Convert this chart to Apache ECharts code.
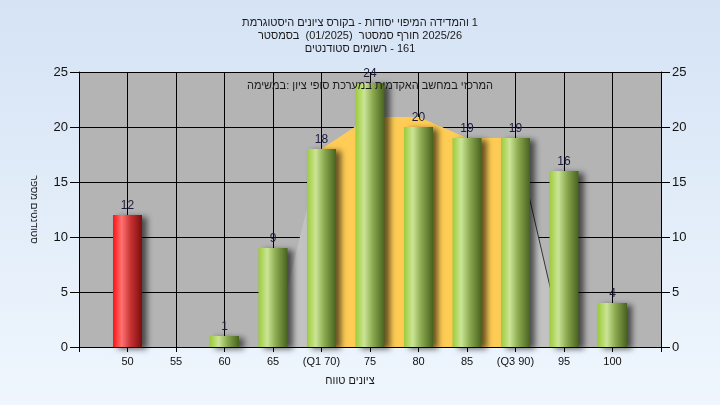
<!DOCTYPE html>
<html><head><meta charset="utf-8">
<script src="https://cdn.jsdelivr.net/npm/echarts@6/dist/echarts.min.js"></script>
<style>html,body{margin:0;padding:0;}#c{width:720px;height:405px;}</style>
</head><body><div id="c"></div>
<script>
const titleLines = ['היסטוגרמת ציונים בקורס - יסודות המיפוי והמדידה 1', 'בסמסטר  (01/2025)  סמסטר חורף 2025/26', 'סטודנטים רשומים - 161'];
const subtitleText = 'במשימה: ציון סופי במערכת האקדמית במחשב המרכזי';
const xName = 'טווח ציונים';
const yName = 'מספר סטודנטים';
const categories = ['50', '55', '60', '65', '(Q1 70)', '75', '80', '85', '(Q3 90)', '95', '100'];
const counts = [12, 0, 1, 9, 18, 24, 20, 19, 19, 16, 4];
const failCategories = ['50'];
const outlineArea = [null, null, null, 0, 18, 20.9, 20.9, 19, 19, 0, 0];
const quartileArea = [null, null, null, null, 18, 20.9, 20.9, 19, 19, null, null];
const edgeLine = [null, null, null, null, null, null, null, null, 19, 0, null];
const yTicks = [0, 5, 10, 15, 20, 25];

// each word becomes its own rich-text token: words are laid out left to right
function ltrWords(s) { return s.split(' ').map(w => (w ? '{w|' + w + '}' : '')).join(' '); }
const pad = arr => [null].concat(arr, [null]);

const font = '"Liberation Sans", Arial, sans-serif';
const txt = (size, lh) => ({fontSize: size, color: '#1a1a1a', fontFamily: font, lineHeight: lh});
const green = {type: 'linear', x: 0, y: 0, x2: 1, y2: 0, colorStops: [
  {offset: 0, color: '#9dcb3a'}, {offset: 0.3, color: '#cbe596'}, {offset: 0.6, color: '#8aa94f'}, {offset: 1, color: '#48621e'}]};
const red = {type: 'linear', x: 0, y: 0, x2: 1, y2: 0, colorStops: [
  {offset: 0, color: '#ff1212'}, {offset: 0.3, color: '#ff7272'}, {offset: 0.6, color: '#c83434'}, {offset: 1, color: '#7c0c0c'}]};

const chart = echarts.init(document.getElementById('c'), null, {renderer: 'canvas'});
const axisLabel = {color: '#111', fontSize: 13, fontFamily: font};
chart.setOption({
  backgroundColor: {type: 'linear', x: 0, y: 0, x2: 0, y2: 1, colorStops: [{offset: 0, color: '#d5e3f5'}, {offset: 1, color: '#eff6fd'}]},
  animation: false,
  title: {
    text: titleLines.map(ltrWords).join('\n'),
    left: 'center', top: 11,
    textStyle: Object.assign(txt(11, 13), {fontWeight: 'normal', rich: {w: txt(11, 13)}})
  },
  graphic: [{
    type: 'text', x: 370, y: 80, z: 100,
    style: {text: ltrWords(subtitleText), align: 'center', fontSize: 11, fill: '#1a1a1a', fontFamily: font,
      rich: {w: {fontSize: 11, fill: '#1a1a1a', fontFamily: font}}}
  }],
  grid: {left: 79, right: 59, top: 72, bottom: 58, show: true, backgroundColor: '#b4b4b4', borderWidth: 0},
  xAxis: {
    type: 'category', data: [''].concat(categories, ['']), boundaryGap: false,
    name: ltrWords(xName), nameLocation: 'middle', nameGap: 28,
    nameTextStyle: Object.assign(txt(11), {padding: [0, 40, 0, 0], rich: {w: txt(11)}}),
    axisLine: {lineStyle: {color: '#000', width: 1}},
    axisTick: {length: 5, lineStyle: {color: '#000'}},
    axisLabel: Object.assign({}, axisLabel, {fontSize: 11, margin: 9, interval: 0}),
    splitLine: {show: true, lineStyle: {color: '#000', width: 1}}
  },
  yAxis: [{
    type: 'value', min: yTicks[0], max: yTicks[yTicks.length - 1], interval: yTicks[1] - yTicks[0],
    name: ltrWords(yName), nameLocation: 'middle', nameGap: 40, nameRotate: -90,
    nameTextStyle: Object.assign(txt(10), {rich: {w: txt(10)}}),
    axisLine: {show: true, lineStyle: {color: '#000'}},
    axisTick: {show: true, length: 9, lineStyle: {color: '#000'}},
    axisLabel: Object.assign({}, axisLabel, {margin: 11}),
    splitLine: {show: true, lineStyle: {color: '#000', width: 1}}
  }, {
    type: 'value', position: 'right', min: yTicks[0], max: yTicks[yTicks.length - 1], interval: yTicks[1] - yTicks[0],
    axisLine: {show: true, lineStyle: {color: '#000'}},
    axisTick: {show: true, length: 9, lineStyle: {color: '#000'}},
    axisLabel: Object.assign({}, axisLabel, {margin: 11}),
    splitLine: {show: false}
  }],
  series: [{
    type: 'line', data: pad(outlineArea), z: 1, symbol: 'none', silent: true,
    lineStyle: {width: 0}, areaStyle: {color: '#c2c2c2', opacity: 1}
  }, {
    type: 'line', data: pad(quartileArea), z: 2, symbol: 'none', silent: true,
    lineStyle: {width: 0}, areaStyle: {color: '#ffcc55', opacity: 1}
  }, {
    type: 'line', data: pad(edgeLine), z: 2, symbol: 'none', silent: true,
    lineStyle: {width: 1, color: '#333'}
  }, {
    type: 'bar', z: 3, barWidth: 29,
    data: pad(counts.map((v, i) => ({
      value: v,
      itemStyle: {color: failCategories.includes(categories[i]) ? red : green}
    }))),
    itemStyle: {shadowColor: 'rgba(0,0,0,0.6)', shadowBlur: 6, shadowOffsetX: 5, shadowOffsetY: 2},
    label: {
      show: true, position: 'top', distance: 3, fontSize: 12, color: '#1c1c3c', fontFamily: font,
      formatter: p => (p.value === 0 ? '' : String(p.value))
    }
  }]
});
</script></body></html>
